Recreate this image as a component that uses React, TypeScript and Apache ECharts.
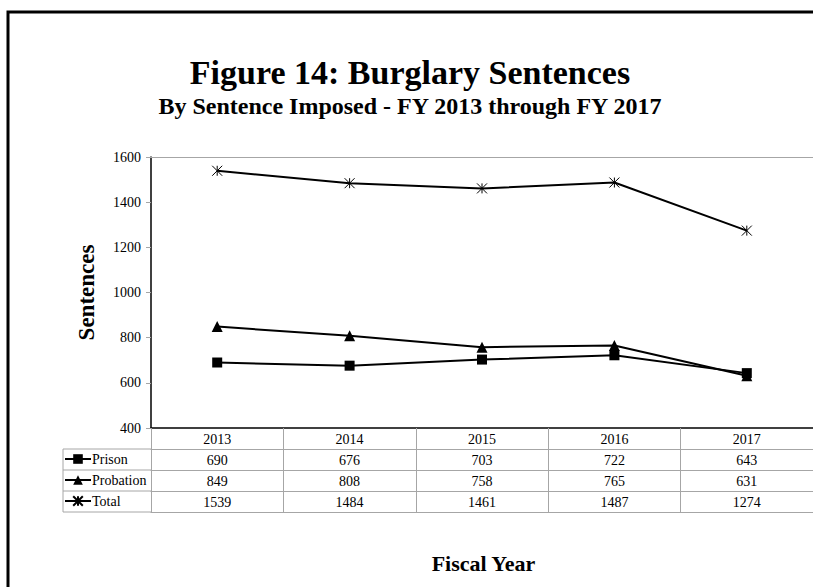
import React, { useEffect, useRef } from "react";
import * as echarts from "echarts";

const years = ["2013", "2014", "2015", "2016", "2017"];
const prison = [690, 676, 703, 722, 643];
const probation = [849, 808, 758, 765, 631];
const total = [1539, 1484, 1461, 1487, 1274];
const seriesNames = ["Prison", "Probation", "Total"];
const yMin = 400;
const yMax = 1600;
const yStep = 200;

const FONT = "'Liberation Serif', 'Times New Roman', serif";
const ASTERISK = "path://M0 0L10 10M10 0L0 10M5 0L5 10";

const G = { left: 151, top: 157, width: 665, height: 271 };
const ROW = 21;
const GRAY = "#a6a6a6";

export default function App() {
  const ref = useRef<HTMLDivElement>(null);
  useEffect(() => {
    if (!ref.current) return;
    const chart = echarts.init(ref.current, null, { renderer: "svg" });
    const bottom = G.top + G.height;
    const rows = [prison, probation, total];
    const labelStyle = { fontFamily: FONT, fontSize: 14, color: "#000" };

    const valueAxes = rows.map((arr, r) => ({
      type: "category",
      data: years,
      gridIndex: 0,
      position: "bottom",
      offset: ROW * (r + 1),
      axisLine: { show: true, lineStyle: { color: GRAY, width: 1 } },
      axisTick: { show: false },
      splitLine: { show: false },
      axisLabel: {
        ...labelStyle,
        interval: 0,
        margin: 4,
        formatter: (_v: string, i: number) => String(arr[i]),
      },
    }));

    const tableLines: any[] = [];
    for (let r = 1; r <= 4; r++) {
      tableLines.push({
        type: "line",
        shape: { x1: 63, y1: bottom + ROW * r, x2: G.left, y2: bottom + ROW * r },
        style: { stroke: GRAY, lineWidth: 1 },
      });
    }
    tableLines.push({
      type: "line",
      shape: { x1: 63, y1: bottom + ROW, x2: 63, y2: bottom + ROW * 4 },
      style: { stroke: GRAY, lineWidth: 1 },
    });

    chart.setOption({
      animation: false,
      backgroundColor: "#fff",
      textStyle: { fontFamily: FONT },
      grid: { ...G, containLabel: false },
      legend: {
        orient: "vertical",
        left: 64,
        top: bottom + ROW + 3,
        itemWidth: 26,
        itemHeight: 12,
        itemGap: 7,
        padding: 0,
        selectedMode: false,
        textStyle: {
          fontFamily: FONT,
          fontSize: 14,
          lineHeight: 14,
          color: "#000",
          padding: [0, 0, 0, -4],
        },
        data: seriesNames,
      },
      xAxis: [
        {
          type: "category",
          data: years,
          position: "bottom",
          boundaryGap: true,
          axisLine: { show: true, lineStyle: { color: "#000", width: 1.5 } },
          axisTick: { show: true, length: ROW * 4, interval: 0, lineStyle: { color: GRAY, width: 1 } },
          splitLine: { show: false },
          axisLabel: { ...labelStyle, interval: 0, margin: 4 },
        },
        ...valueAxes,
        {
          type: "category",
          data: years,
          position: "bottom",
          offset: ROW * 4,
          axisLine: { show: true, lineStyle: { color: GRAY, width: 1 } },
          axisTick: { show: false },
          axisLabel: { show: false },
        },
        {
          type: "category",
          data: years,
          position: "top",
          axisLine: { show: true, lineStyle: { color: GRAY, width: 1 } },
          axisTick: { show: false },
          axisLabel: { show: false },
        },
      ],
      yAxis: {
        type: "value",
        min: yMin,
        max: yMax,
        interval: yStep,
        name: "Sentences",
        nameLocation: "middle",
        nameRotate: 90,
        nameGap: 53,
        nameTextStyle: { fontFamily: FONT, fontSize: 23, fontWeight: "bold", color: "#000" },
        axisLine: { show: true, lineStyle: { color: "#000", width: 1.5 } },
        axisTick: { show: true, length: 5, lineStyle: { color: GRAY } },
        splitLine: { show: false },
        axisLabel: { ...labelStyle, margin: 10, formatter: (v: number) => String(v) },
      },
      series: [
        {
          name: seriesNames[0],
          type: "line",
          data: prison,
          symbol: "rect",
          symbolSize: 10,
          lineStyle: { color: "#000", width: 2 },
          itemStyle: { color: "#000" },
        },
        {
          name: seriesNames[1],
          type: "line",
          data: probation,
          symbol: "triangle",
          symbolSize: 11,
          lineStyle: { color: "#000", width: 2 },
          itemStyle: { color: "#000" },
        },
        {
          name: seriesNames[2],
          type: "line",
          data: total,
          symbol: ASTERISK,
          symbolSize: 10,
          lineStyle: { color: "#000", width: 2 },
          itemStyle: { color: "#000", borderColor: "#000", borderWidth: 1 },
        },
      ],
      graphic: [
        {
          type: "rect",
          shape: { x: 8, y: 12, width: 1000, height: 1000 },
          style: { fill: "none", stroke: "#000", lineWidth: 3 },
          silent: true,
        },
        {
          type: "text",
          x: 410,
          y: 72,
          style: {
            text: "Figure 14: Burglary Sentences",
            fontFamily: FONT,
            fontSize: 34,
            fontWeight: "bold",
            fill: "#000",
            align: "center",
            verticalAlign: "middle",
          },
        },
        {
          type: "text",
          x: 410,
          y: 106,
          style: {
            text: "By Sentence Imposed - FY 2013 through FY 2017",
            fontFamily: FONT,
            fontSize: 24,
            fontWeight: "bold",
            fill: "#000",
            align: "center",
            verticalAlign: "middle",
          },
        },
        {
          type: "text",
          x: G.left + G.width / 2,
          y: 563,
          style: {
            text: "Fiscal Year",
            fontFamily: FONT,
            fontSize: 22,
            fontWeight: "bold",
            fill: "#000",
            align: "center",
            verticalAlign: "middle",
          },
        },
        ...tableLines,
      ],
    });
    return () => chart.dispose();
  }, []);
  return (
    <div
      ref={ref}
      style={{ position: "fixed", left: 0, top: 0, width: 813, height: 587, background: "#fff" }}
    />
  );
}
